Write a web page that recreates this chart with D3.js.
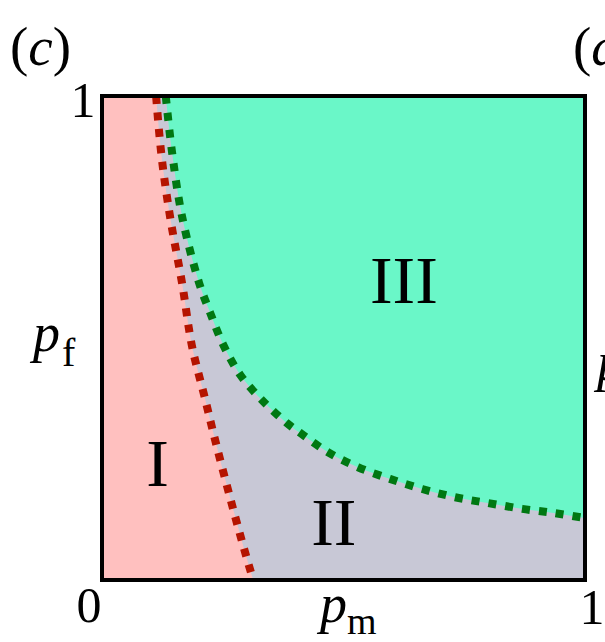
<!DOCTYPE html>
<html>
<head>
<meta charset="utf-8">
<script src="https://cdn.jsdelivr.net/npm/d3@7"></script>
<style>
  html, body { margin: 0; padding: 0; background: #fff; }
  svg { display: block; }
  text { font-family: "Liberation Serif", "Times New Roman", serif; fill: #000; }
</style>
</head>
<body>
<svg id="chart" width="605" height="642"></svg>
<script>
// Boundary between region I and II (red dotted), [pm, pf]
const redBoundary = [
  [0.112, 1.0], [0.126, 0.853], [0.141, 0.75], [0.166, 0.612], [0.188, 0.475],
  [0.213, 0.376], [0.230, 0.306], [0.265, 0.171], [0.292, 0.072], [0.313, 0.0]
];
// Boundary between region II and III (green dotted), [pm, pf]
const greenBoundary = [
  [0.132, 1.0], [0.145, 0.884], [0.166, 0.75], [0.201, 0.614], [0.224, 0.552],
  [0.251, 0.486], [0.286, 0.424], [0.331, 0.372], [0.383, 0.324], [0.410, 0.304],
  [0.468, 0.264], [0.530, 0.233], [0.596, 0.209], [0.663, 0.188], [0.731, 0.171],
  [0.799, 0.159], [0.870, 0.147], [0.938, 0.138], [1.0, 0.128]
];
const regionLabels = ["I", "II", "III"];
const regionPositions = [[0.115, 0.195], [0.48, 0.072], [0.625, 0.572]];
const tickValues = [0, 1];

const svg = d3.select("#chart");
const pLeft = 102, pRight = 585, pTop = 96, pBottom = 580;
const x = d3.scaleLinear().domain([0, 1]).range([pLeft, pRight]);
const y = d3.scaleLinear().domain([0, 1]).range([pBottom, pTop]);

const colors = { I: "#ffc0bf", II: "#c8c8d6", III: "#6af7c8", red: "#b51400", green: "#007812" };

svg.append("defs").append("clipPath").attr("id", "clip")
  .append("rect").attr("x", pLeft).attr("y", pTop).attr("width", pRight - pLeft).attr("height", pBottom - pTop);

const g = svg.append("g").attr("clip-path", "url(#clip)");

// region II background
g.append("rect").attr("x", pLeft).attr("y", pTop).attr("width", pRight - pLeft).attr("height", pBottom - pTop)
  .attr("fill", colors.II);

// region I
g.append("path").datum(redBoundary)
  .attr("d", d3.area().curve(d3.curveMonotoneY)
    .y(d => y(d[1])).x0(x(0)).x1(d => x(d[0])))
  .attr("fill", colors.I);

// region III
g.append("path").datum(greenBoundary)
  .attr("d", d3.area().curve(d3.curveCatmullRom)
    .x(d => x(d[0])).y0(y(1)).y1(d => y(d[1])))
  .attr("fill", colors.III);

// dotted boundaries
g.append("path").datum(redBoundary)
  .attr("d", d3.line().curve(d3.curveMonotoneY).x(d => x(d[0])).y(d => y(d[1])))
  .attr("fill", "none").attr("stroke", colors.red).attr("stroke-width", 8)
  .attr("stroke-dasharray", "8 8.5");

g.append("path").datum(greenBoundary)
  .attr("d", d3.line().curve(d3.curveCatmullRom).x(d => x(d[0])).y(d => y(d[1])))
  .attr("fill", "none").attr("stroke", colors.green).attr("stroke-width", 8)
  .attr("stroke-dasharray", "8 9");

// frame
svg.append("rect").attr("x", pLeft).attr("y", pTop).attr("width", pRight - pLeft).attr("height", pBottom - pTop)
  .attr("fill", "none").attr("stroke", "#000").attr("stroke-width", 4);

// region labels
svg.selectAll("text.region").data(regionLabels).enter().append("text")
  .attr("class", "region")
  .attr("x", (d, i) => x(regionPositions[i][0]))
  .attr("y", (d, i) => y(regionPositions[i][1]))
  .attr("text-anchor", "middle").attr("font-size", 68)
  .text(d => d);

// tick labels
svg.append("text").attr("x", x(tickValues[0]) - 13).attr("y", 622)
  .attr("text-anchor", "middle").attr("font-size", 50).text(tickValues[0]);
svg.append("text").attr("x", x(tickValues[1]) + 7).attr("y", 624)
  .attr("text-anchor", "middle").attr("font-size", 50).text(tickValues[1]);
svg.append("text").attr("x", pLeft - 19).attr("y", y(tickValues[1]) + 21)
  .attr("text-anchor", "middle").attr("font-size", 50).text(tickValues[1]);

// axis titles
const xt = svg.append("text").attr("x", 320).attr("y", 622).attr("font-size", 54);
xt.append("tspan").attr("font-style", "italic").text("p");
xt.append("tspan").attr("font-size", 38).attr("dy", 12).text("m");

const yt = svg.append("text").attr("x", 33).attr("y", 351).attr("font-size", 54);
yt.append("tspan").attr("font-style", "italic").text("p");
yt.append("tspan").attr("font-size", 40).attr("dy", 15).attr("dx", 2).text("f");

// panel labels
const pc = svg.append("text").attr("x", 10).attr("y", 65).attr("font-size", 55);
pc.append("tspan").text("(");
pc.append("tspan").attr("font-style", "italic").text("c");
pc.append("tspan").text(")");

const pd = svg.append("text").attr("x", 573).attr("y", 65).attr("font-size", 55);
pd.append("tspan").text("(");
pd.append("tspan").attr("font-style", "italic").text("d");
pd.append("tspan").text(")");

svg.append("text").attr("x", 597).attr("y", 380).attr("font-size", 54)
  .attr("font-style", "italic").text("p");
</script>
</body>
</html>
